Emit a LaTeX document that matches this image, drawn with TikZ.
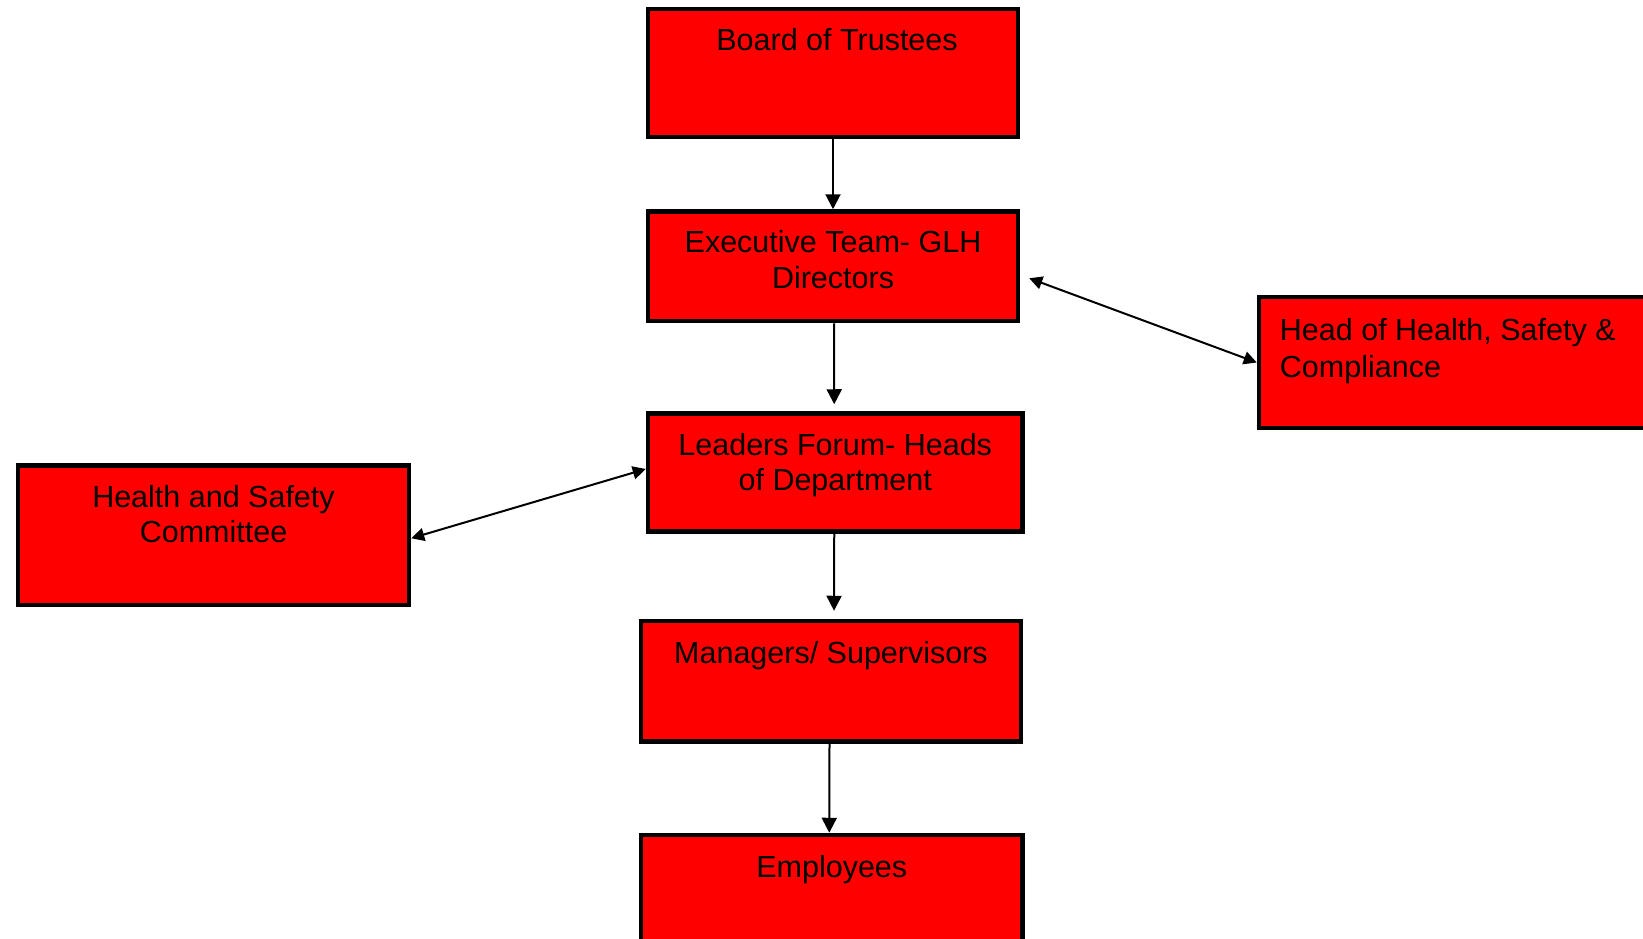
\documentclass[tikz,border=0pt]{standalone}
\usepackage{fontspec}
\setmainfont{Liberation Sans}
\usetikzlibrary{arrows.meta}
\definecolor{boxred}{HTML}{FF0000}
\tikzset{
  orgbox/.style={draw=black, line width=4.5pt, fill=boxred, rectangle, inner sep=0pt},
  lbl/.style={inner sep=0pt, align=center, font=\fontsize{30.5}{35.6}\selectfont, text=black, anchor=north},
  lblleft/.style={inner sep=0pt, align=left, font=\fontsize{30.5}{37.5}\selectfont, text=black, anchor=north west},
  conn/.style={draw=black, line width=2pt, -{Triangle[length=15pt,width=15pt]}},
  biconn/.style={draw=black, line width=2pt, {Triangle[length=13pt,width=13pt]}-{Triangle[length=13pt,width=13pt]}}
}
\begin{document}
\begin{tikzpicture}[x=1pt,y=-1pt]
\clip (0,0) rectangle (1643,939);
\fill[white] (0,0) rectangle (1643,939);
% boxes
\node[orgbox, minimum width=370pt, minimum height=128pt] (board) at (833,73) {};
\node[orgbox, minimum width=370pt, minimum height=109.5pt] (exec) at (833,266.25) {};
\node[orgbox, minimum width=374.5pt, minimum height=118pt] (lead) at (835.25,472.5) {};
\node[orgbox, minimum width=380pt, minimum height=120.5pt] (mgr) at (831,681.25) {};
\node[orgbox, minimum width=381.5pt, minimum height=120pt] (emp) at (831.75,895) {};
\node[orgbox, minimum width=391pt, minimum height=139.5pt] (hsc) at (213.5,535.25) {};
\node[orgbox, minimum width=400pt, minimum height=131pt] (head) at (1459,362.5) {};
% texts
\node[lbl] (tboard) at ([xshift=4pt,yshift=-21.5pt]board.north) {Board of Trustees};
\node[lbl] (texec) at ([yshift=-21pt]exec.north) {Executive Team- GLH\\Directors};
\node[lbl] (tlead) at ([yshift=-21.5pt]lead.north) {Leaders Forum- Heads\\of Department};
\node[lbl] (tmgr) at ([yshift=-22.5pt]mgr.north) {Managers/ Supervisors};
\node[lbl] (temp) at ([yshift=-22pt]emp.north) {Employees};
\node[lbl] (thsc) at ([yshift=-21.5pt]hsc.north) {Health and Safety\\Committee};
\node[lblleft] (thead) at ([xshift=23pt,yshift=-23pt]head.north west) {Head of Health, Safety \&\\Compliance};
% connectors
\draw[conn] (board.south) -- (exec.north);
\draw[conn, shorten >=7pt] ([xshift=1pt]exec.south) -- ([xshift=-1pt]lead.north);
\draw[conn, shorten >=8pt] ([xshift=-1pt]lead.south) -- ([xshift=3pt]mgr.north);
\draw[conn] ([xshift=-1.5pt]mgr.south) -- ([xshift=-2.5pt]emp.north);
\draw[biconn] ([yshift=-3pt]hsc.east) -- ([yshift=3.5pt]lead.west);
\draw[biconn] ([xshift=9pt,yshift=-12pt]exec.east) -- (head.west);
\end{tikzpicture}
\end{document}
